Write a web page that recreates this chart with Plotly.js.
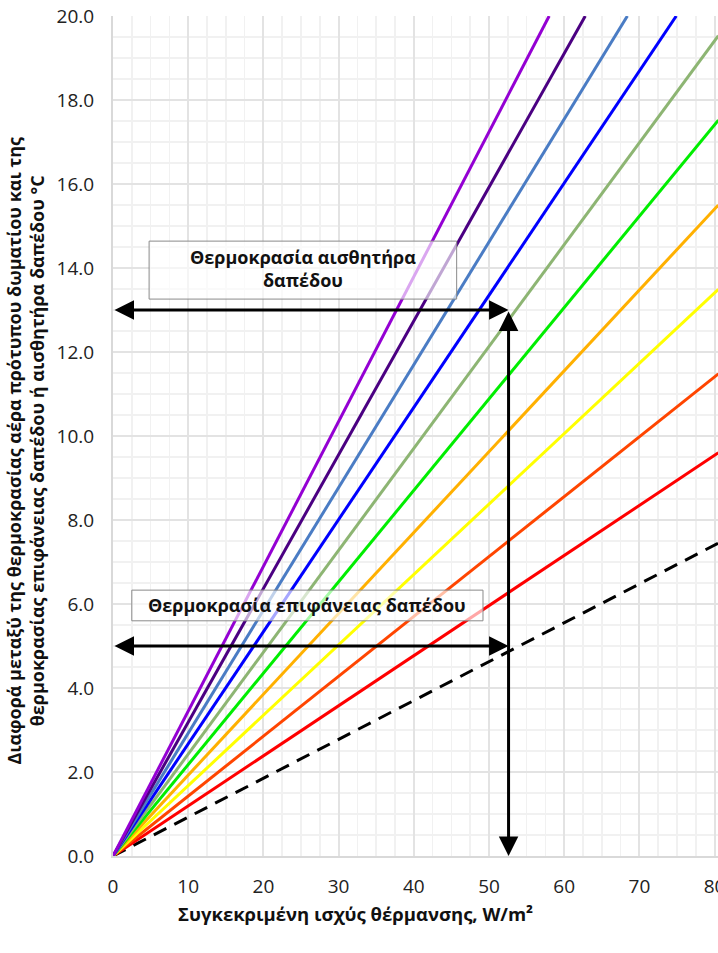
<!DOCTYPE html>
<html>
<head>
<meta charset="utf-8">
<script src="https://cdn.plot.ly/plotly-3.0.1.min.js"></script>
<style>
html,body{margin:0;padding:0;background:#fff;}
#chart{width:718px;height:953px;}
</style>
</head>
<body>
<div id="chart"></div>
<script>
// Lines start at origin and leave the plot at (xEnd, yEnd)
const seriesNames = ['Επιφάνεια δαπέδου','Γραμμή 1','Γραμμή 2','Γραμμή 3','Γραμμή 4','Γραμμή 5','Γραμμή 6','Γραμμή 7','Γραμμή 8','Γραμμή 9','Γραμμή 10'];
const xStart = [0,0,0,0,0,0,0,0,0,0,0];
const yStart = [0,0,0,0,0,0,0,0,0,0,0];
const xEnd = [80.5, 80.5, 80.5, 80.5, 80.5, 80.5, 80.5, 74.9, 68.4, 62.8, 58.0];
const yEnd = [7.45, 9.6, 11.48, 13.49, 15.5, 17.52, 19.53, 20, 20, 20, 20];
const colors = ['#000000','#FF0000','#FF4500','#FFFF00','#FFB000','#00EE00','#8DB573','#0000FF','#4A7CC4','#4B0082','#9400D3'];
const dashes = ['14px,9px','solid','solid','solid','solid','solid','solid','solid','solid','solid','solid'];

// Reading example
const readingX = 52.6;
const sensorY = 13;
const surfaceY = 5;
const boxText1 = '<b>Θερμοκρασία αισθητήρα<br>δαπέδου</b>';
const boxText2 = '<b>Θερμοκρασία επιφάνειας δαπέδου</b>';
const xTitle = '<b>Συγκεκριμένη ισχύς θέρμανσης, W/m²</b>';
const yTitle = '<b>Διαφορά μεταξύ της θερμοκρασίας αέρα πρότυπου δωματίου και της<br>θερμοκρασίας επιφάνειας δαπέδου ή αισθητήρα δαπέδου °C</b>';

const xTicks = [0,10,20,30,40,50,60,70,80];
const yTicks = [0,2,4,6,8,10,12,14,16,18,20];

const traces = seriesNames.map((n,i)=>({
  type:'scatter', mode:'lines', name:n,
  x:[xStart[i], xEnd[i]], y:[yStart[i], yEnd[i]],
  line:{color:colors[i], width:3, dash:dashes[i]},
  hoverinfo:'skip'
}));

const arrowStyle = {
  text:'', showarrow:true, xref:'x', yref:'y', axref:'x', ayref:'y',
  arrowhead:2, startarrowhead:2, arrowside:'end+start',
  arrowsize:1.3, startarrowsize:1.3, arrowwidth:3, arrowcolor:'#000',
  standoff:0, startstandoff:0
};

const font = "'Open Sans', 'Noto Sans', sans-serif";

const layout = {
  width:718, height:953,
  margin:{l:113, r:0, t:16, b:97},
  paper_bgcolor:'#fff', plot_bgcolor:'#fff',
  showlegend:false,
  font:{family:font, size:19, color:'#222'},
  xaxis:{
    range:[0,80.45], tickvals:xTicks, ticktext:xTicks.map(String),
    showgrid:true, gridcolor:'#e3e3e3', gridwidth:2,
    minor:{dtick:2.5, showgrid:true, gridcolor:'#f1f1f1', gridwidth:1.5, ticks:''},
    zeroline:false, showline:true, linecolor:'#d9d9d9', linewidth:2,
    ticks:'outside', ticklen:12, tickcolor:'rgba(255,255,255,0)',
    ticklabeloverflow:'allow', tickfont:{family:font, size:19, color:'#222'}
  },
  yaxis:{
    range:[0,20], tickvals:yTicks, ticktext:yTicks.map(v=>v.toFixed(1)),
    showgrid:true, gridcolor:'#e3e3e3', gridwidth:2,
    minor:{dtick:0.5, showgrid:true, gridcolor:'#f1f1f1', gridwidth:1.5, ticks:''},
    zeroline:false, showline:true, linecolor:'#d9d9d9', linewidth:2,
    ticks:'outside', ticklen:13, tickcolor:'rgba(255,255,255,0)',
    ticklabeloverflow:'allow', tickfont:{family:font, size:19, color:'#222'}
  },
  shapes:[
    {type:'rect', xref:'x', yref:'y', x0:4.8, x1:45.7, y0:13.26, y1:14.64,
     fillcolor:'rgba(255,255,255,0.65)', line:{color:'#8a8a8a', width:1}, layer:'above'},
    {type:'rect', xref:'x', yref:'y', x0:2.5, x1:49.2, y0:5.6, y1:6.33,
     fillcolor:'rgba(255,255,255,0.65)', line:{color:'#8a8a8a', width:1}, layer:'above'}
  ],
  annotations:[
    Object.assign({}, arrowStyle, {x:readingX, y:sensorY, ax:0, ay:sensorY}),
    Object.assign({}, arrowStyle, {x:readingX, y:0, ax:readingX, ay:sensorY}),
    Object.assign({}, arrowStyle, {x:readingX, y:surfaceY, ax:0, ay:surfaceY}),
    {text:boxText1, xref:'x', yref:'y', x:25.3, y:14.0, showarrow:false,
     font:{size:18, color:'#111'}, align:'center'},
    {text:boxText2, xref:'x', yref:'y', x:25.85, y:5.98, showarrow:false,
     font:{size:18, color:'#111'}, align:'center'},
    {text:xTitle, xref:'paper', yref:'paper',
     x:0.4, y:-0.068, xanchor:'center', yanchor:'middle', showarrow:false,
     font:{size:18.5, color:'#111'}},
    {text:yTitle, xref:'paper', yref:'paper', textangle:-90,
     x:-0.145, y:0.483, xanchor:'center', yanchor:'middle', showarrow:false,
     font:{size:18, color:'#111'}}
  ]
};

Plotly.newPlot('chart', traces, layout, {staticPlot:true, displayModeBar:false});
</script>
</body>
</html>
